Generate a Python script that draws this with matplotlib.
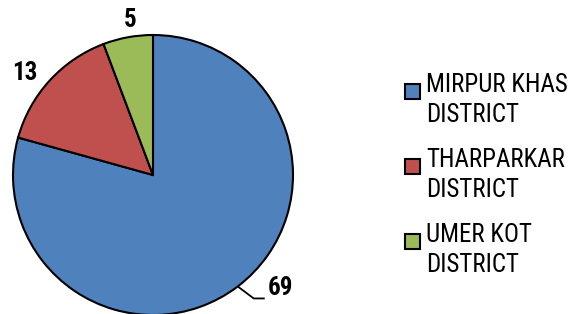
import numpy as np
import matplotlib
matplotlib.use("Agg")
import matplotlib.pyplot as plt
from matplotlib import font_manager
from matplotlib.patches import Rectangle

districts = ["MIRPUR KHAS\nDISTRICT", "THARPARKAR\nDISTRICT", "UMER KOT\nDISTRICT"]
counts = [69, 13, 5]
colors = ["#4F81BD", "#C0504D", "#9BBB59"]

names = {f.name for f in font_manager.fontManager.ttflist}
narrow = next((n for n in ["Liberation Sans Narrow", "Roboto Condensed", "Open Sans Condensed",
                           "Roboto", "Liberation Sans"] if n in names), "DejaVu Sans")
plt.rcParams['font.family'] = [narrow, 'DejaVu Sans']

W, H = 587, 314
fig = plt.figure(figsize=(W / 100, H / 100), dpi=100)
ax = fig.add_axes([0, 0, 1, 1])

cx, cy, r = 153, H - 175, 140
wedges, _ = ax.pie(counts, colors=colors, startangle=90, counterclock=False,
                   center=(cx, cy), radius=r,
                   wedgeprops=dict(edgecolor="black", linewidth=1.5))
ax.set_xlim(0, W)
ax.set_ylim(0, H)
ax.set_aspect("equal")
ax.axis("off")

angles = [np.deg2rad((w.theta1 + w.theta2) / 2) for w in wedges]
lab_font = dict(fontsize=18, fontweight="bold", color="black")

# 69 with leader line
a = angles[0]
ex, ey = cx + r * np.cos(a), cy + r * np.sin(a)
ax.plot([ex, ex + 16, ex + 27], [ey, ey - 12, ey - 12], color="black", lw=1.3,
        solid_capstyle="butt")
ax.text(ex + 30, ey - 2, str(counts[0]), ha="left", va="center", **lab_font)
# 13
a = angles[1] + np.deg2rad(4)
ax.text(cx + 1.17 * r * np.cos(a), cy + 1.17 * r * np.sin(a), str(counts[1]),
        ha="center", va="center", **lab_font)
# 5
a = angles[2] - np.deg2rad(2)
ax.text(cx + 1.12 * r * np.cos(a), cy + 1.12 * r * np.sin(a), str(counts[2]),
        ha="center", va="center", **lab_font)

# legend, drawn by hand so the swatch sits on the first text line
for i, (name, color) in enumerate(zip(districts, colors)):
    base = H - 91.7 - 75 * i
    ax.add_patch(Rectangle((405, base - 7), 15, 15, facecolor=color,
                           edgecolor="black", lw=1.5))
    for j, line in enumerate(name.split("\n")):
        ax.text(426.5, base - 30.6 * j, line, ha="left", va="baseline",
                fontsize=18, color="black")

fig.savefig("out.png", dpi=100)
